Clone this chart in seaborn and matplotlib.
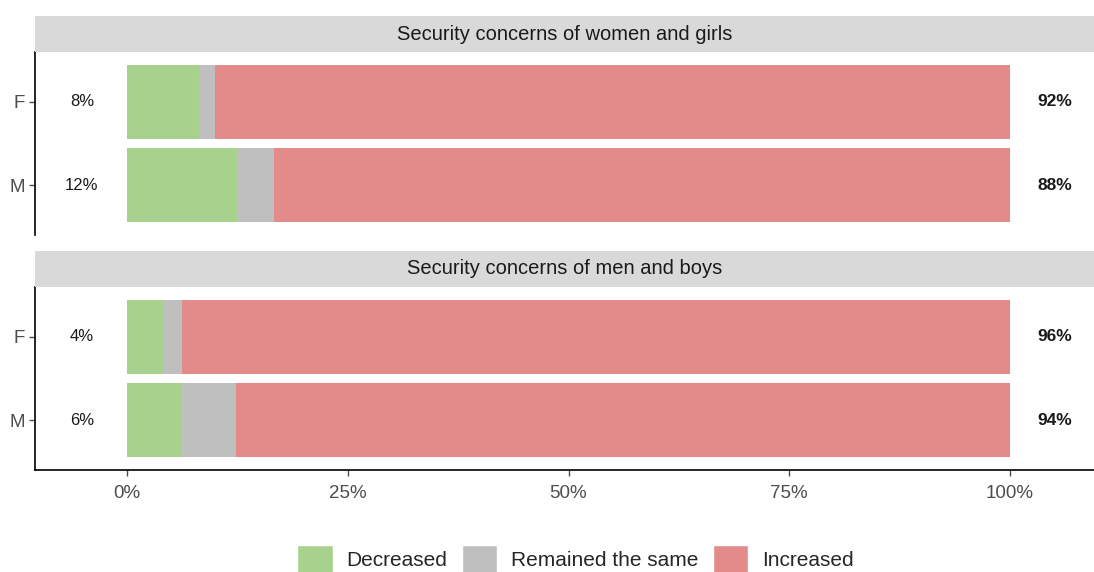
import pandas as pd
import matplotlib
matplotlib.use('Agg')
import matplotlib.pyplot as plt
import seaborn as sns
from matplotlib.patches import Patch, Rectangle

# 資料 (從圖上讀出的百分比)
facets = ['Security concerns of women and girls', 'Security concerns of men and boys']
genders = ['F', 'M']
decreased = [8.2, 12.5, 4.2, 6.2]
remained = [1.8, 4.1, 2.0, 6.2]
increased = [90.0, 83.4, 93.8, 87.6]
left_labels = ['8%', '12%', '4%', '6%']
right_labels = ['92%', '88%', '96%', '94%']

c_dec = '#a9d18e'
c_same = '#bfbfbf'
c_inc = '#e28b8a'
strip_c = '#d9d9d9'
txt_gray = '#4d4d4d'

df = pd.DataFrame({
    'facet': [facets[0]] * 2 + [facets[1]] * 2,
    'gender': genders * 2,
    'dec': decreased,
    'same': remained,
    'inc': increased,
    'lab_l': left_labels,
    'lab_r': right_labels,
})
# 累積值做堆疊
df['c1'] = df['dec']
df['c2'] = df['dec'] + df['same']
df['c3'] = df['dec'] + df['same'] + df['inc']

sns.set_theme(style='white')
plt.rcParams['font.family'] = ['Liberation Sans', 'DejaVu Sans']

W, H = 1094, 572
fig = plt.figure(figsize=(W / 100, H / 100), dpi=100)

def px_axes(x0, y0, x1, y1):
    return fig.add_axes([x0 / W, 1 - y1 / H, (x1 - x0) / W, (y1 - y0) / H])

panels = [(16, 52, 235), (251, 287, 470)]
x0, x1 = 35, 1094
xmin = (x0 - 127) / 8.83
xmax = (x1 - 127) / 8.83

for i, (facet, (s0, p0, p1)) in enumerate(zip(facets, panels)):
    sub = df[df['facet'] == facet]
    ax = px_axes(x0, p0, x1, p1)
    for col, c in [('c3', c_inc), ('c2', c_same), ('c1', c_dec)]:
        sns.barplot(data=sub, x=col, y='gender', order=genders, color=c,
                    width=0.89, orient='h', ax=ax, saturation=1,
                    edgecolor='none', linewidth=0)
    ax.set_xlim(xmin, xmax)
    ax.set_ylim(1.6, -0.6)
    ax.set_xlabel('')
    ax.set_ylabel('')
    for j, row in enumerate(sub.itertuples()):
        ax.text(-5.1, j, row.lab_l, ha='center', va='center', fontsize=12, color='#1a1a1a')
        ax.text(105.1, j, row.lab_r, ha='center', va='center', fontsize=12.5,
                fontweight='bold', color='#1a1a1a')
    for sp in ['top', 'right']:
        ax.spines[sp].set_visible(False)
    ax.spines['left'].set_color('black')
    ax.spines['left'].set_linewidth(1.2)
    ax.tick_params(axis='y', left=True, length=4, width=1, color=txt_gray,
                   labelsize=13.5, labelcolor=txt_gray, pad=3)
    if i == 0:
        ax.spines['bottom'].set_visible(False)
        ax.set_xticks([])
    else:
        ax.spines['bottom'].set_color('black')
        ax.spines['bottom'].set_linewidth(1.2)
        ax.set_xticks([0, 25, 50, 75, 100])
        ax.set_xticklabels(['0%', '25%', '50%', '75%', '100%'])
        ax.tick_params(axis='x', bottom=True, length=4, width=1, color=txt_gray,
                       labelsize=13.5, labelcolor=txt_gray, pad=7)
    # facet 標題條
    sax = px_axes(x0, s0, x1, p0)
    sax.add_patch(Rectangle((0, 0), 1, 1, color=strip_c, transform=sax.transAxes))
    sax.text(0.5, 0.5, facet, ha='center', va='center', fontsize=14.5, color='#1a1a1a',
             transform=sax.transAxes)
    sax.set_axis_off()

handles = [Patch(facecolor=c_dec, label='Decreased'),
           Patch(facecolor=c_same, label='Remained the same'),
           Patch(facecolor=c_inc, label='Increased')]
fig.legend(handles=handles, loc='center', bbox_to_anchor=(0.526, 1 - 559 / H), ncol=3,
           frameon=False, fontsize=15, handlelength=1.7, handleheight=1.7,
           handletextpad=0.65, columnspacing=0.7, borderaxespad=0)

fig.savefig('out.png', dpi=100)
